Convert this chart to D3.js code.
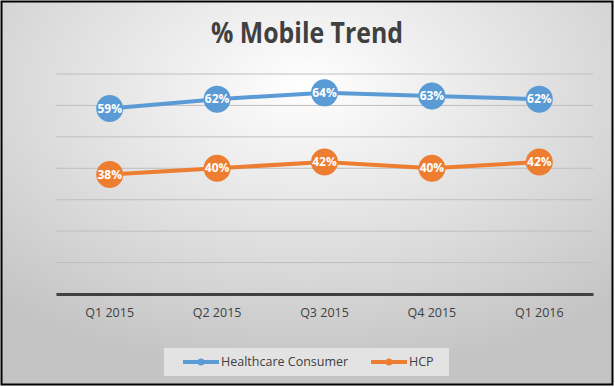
<!DOCTYPE html>
<html>
<head>
<meta charset="utf-8">
<script src="https://cdn.jsdelivr.net/npm/d3@7"></script>
<style>
  body { margin: 0; background: #fff; }
  text { font-family: "Open Sans", "Noto Sans", sans-serif; }
</style>
</head>
<body>
<div id="chart"></div>
<script>
// Data
var quarters = ["Q1 2015", "Q2 2015", "Q3 2015", "Q4 2015", "Q1 2016"];
var consumer = [59, 62, 64, 63, 62];
var hcp = [38, 40, 42, 40, 42];
var seriesNames = ["Healthcare Consumer", "HCP"];
var colors = ["#5B9BD5", "#ED7D31"];
var yTicks = [0, 10, 20, 30, 40, 50, 60, 70];

var W = 615, H = 387;
var margin = { top: 74, right: 22, bottom: 93, left: 56 },
    width = W - margin.left - margin.right,
    height = H - margin.top - margin.bottom;

var root = d3.select("#chart").append("svg")
    .attr("width", W)
    .attr("height", H);

// Background gradient
var defs = root.append("defs");
var grad = defs.append("radialGradient")
    .attr("id", "bg")
    .attr("cx", "50%").attr("cy", "22%")
    .attr("r", "75%")
    .attr("fx", "50%").attr("fy", "22%");
grad.append("stop").attr("offset", "0%").attr("stop-color", "#ffffff");
grad.append("stop").attr("offset", "100%").attr("stop-color", "#c4c4c4");

root.append("rect")
    .attr("x", 1.5).attr("y", 1.5)
    .attr("width", 611).attr("height", 383)
    .attr("fill", "url(#bg)")
    .attr("stroke", "#000")
    .attr("stroke-width", 2);

// Title
root.append("text")
    .attr("x", 307)
    .attr("y", 43)
    .attr("text-anchor", "middle")
    .attr("textLength", 192)
    .attr("lengthAdjust", "spacingAndGlyphs")
    .style("font-size", "28px")
    .style("font-weight", "bold")
    .style("fill", "#404040")
    .text("% Mobile Trend");

var svg = root.append("g")
    .attr("transform", "translate(" + margin.left + "," + margin.top + ")");

var x = d3.scaleBand()
    .domain(quarters)
    .range([0, width]);

var y = d3.scaleLinear()
    .domain([0, 70])
    .range([height, 0]);

// Gridlines
svg.selectAll(".grid")
    .data(yTicks.slice(1))
    .enter().append("line")
    .attr("x1", 0).attr("x2", width)
    .attr("y1", function (d) { return y(d); })
    .attr("y2", function (d) { return y(d); })
    .attr("stroke", "#bfbfbf")
    .attr("stroke-width", 1);

// X axis
var xAxis = svg.append("g")
    .attr("transform", "translate(0," + height + ")")
    .call(d3.axisBottom(x).tickSize(0).tickPadding(14));
xAxis.select(".domain")
    .attr("stroke", "#404040")
    .attr("stroke-width", 3);
xAxis.selectAll("text")
    .style("font-size", "12.5px")
    .style("fill", "#404040");

// Lines, markers and labels
var series = [consumer, hcp];
var line = d3.line()
    .x(function (d, i) { return x(quarters[i]) + x.bandwidth() / 2; })
    .y(function (d) { return y(d); });

series.forEach(function (vals, s) {
    svg.append("path")
        .datum(vals)
        .attr("d", line)
        .attr("fill", "none")
        .attr("stroke", colors[s])
        .attr("stroke-width", 4);

    svg.selectAll(".dot" + s)
        .data(vals)
        .enter().append("circle")
        .attr("cx", function (d, i) { return x(quarters[i]) + x.bandwidth() / 2; })
        .attr("cy", function (d) { return y(d); })
        .attr("r", 13.5)
        .attr("fill", colors[s]);

    svg.selectAll(".lbl" + s)
        .data(vals)
        .enter().append("text")
        .attr("x", function (d, i) { return x(quarters[i]) + x.bandwidth() / 2; })
        .attr("y", function (d) { return y(d); })
        .attr("dy", "0.35em")
        .attr("text-anchor", "middle")
        .style("font-size", "12px")
        .style("font-weight", "bold")
        .style("fill", "#fff")
        .text(function (d) { return d + "%"; });
});

// Legend
var legend = root.append("g");
legend.append("rect")
    .attr("x", 164).attr("y", 348)
    .attr("width", 285).attr("height", 28)
    .attr("fill", "#e3e3e3");

var legendX = [183, 371];
seriesNames.forEach(function (name, s) {
    legend.append("line")
        .attr("x1", legendX[s]).attr("x2", legendX[s] + 36)
        .attr("y1", 362).attr("y2", 362)
        .attr("stroke", colors[s])
        .attr("stroke-width", 4);
    legend.append("circle")
        .attr("cx", legendX[s] + 18).attr("cy", 362)
        .attr("r", 3.5)
        .attr("fill", colors[s]);
    legend.append("text")
        .attr("x", legendX[s] + 38)
        .attr("y", 362)
        .attr("dy", "0.35em")
        .style("font-size", "12.5px")
        .style("fill", "#404040")
        .text(name);
});
</script>
</body>
</html>
